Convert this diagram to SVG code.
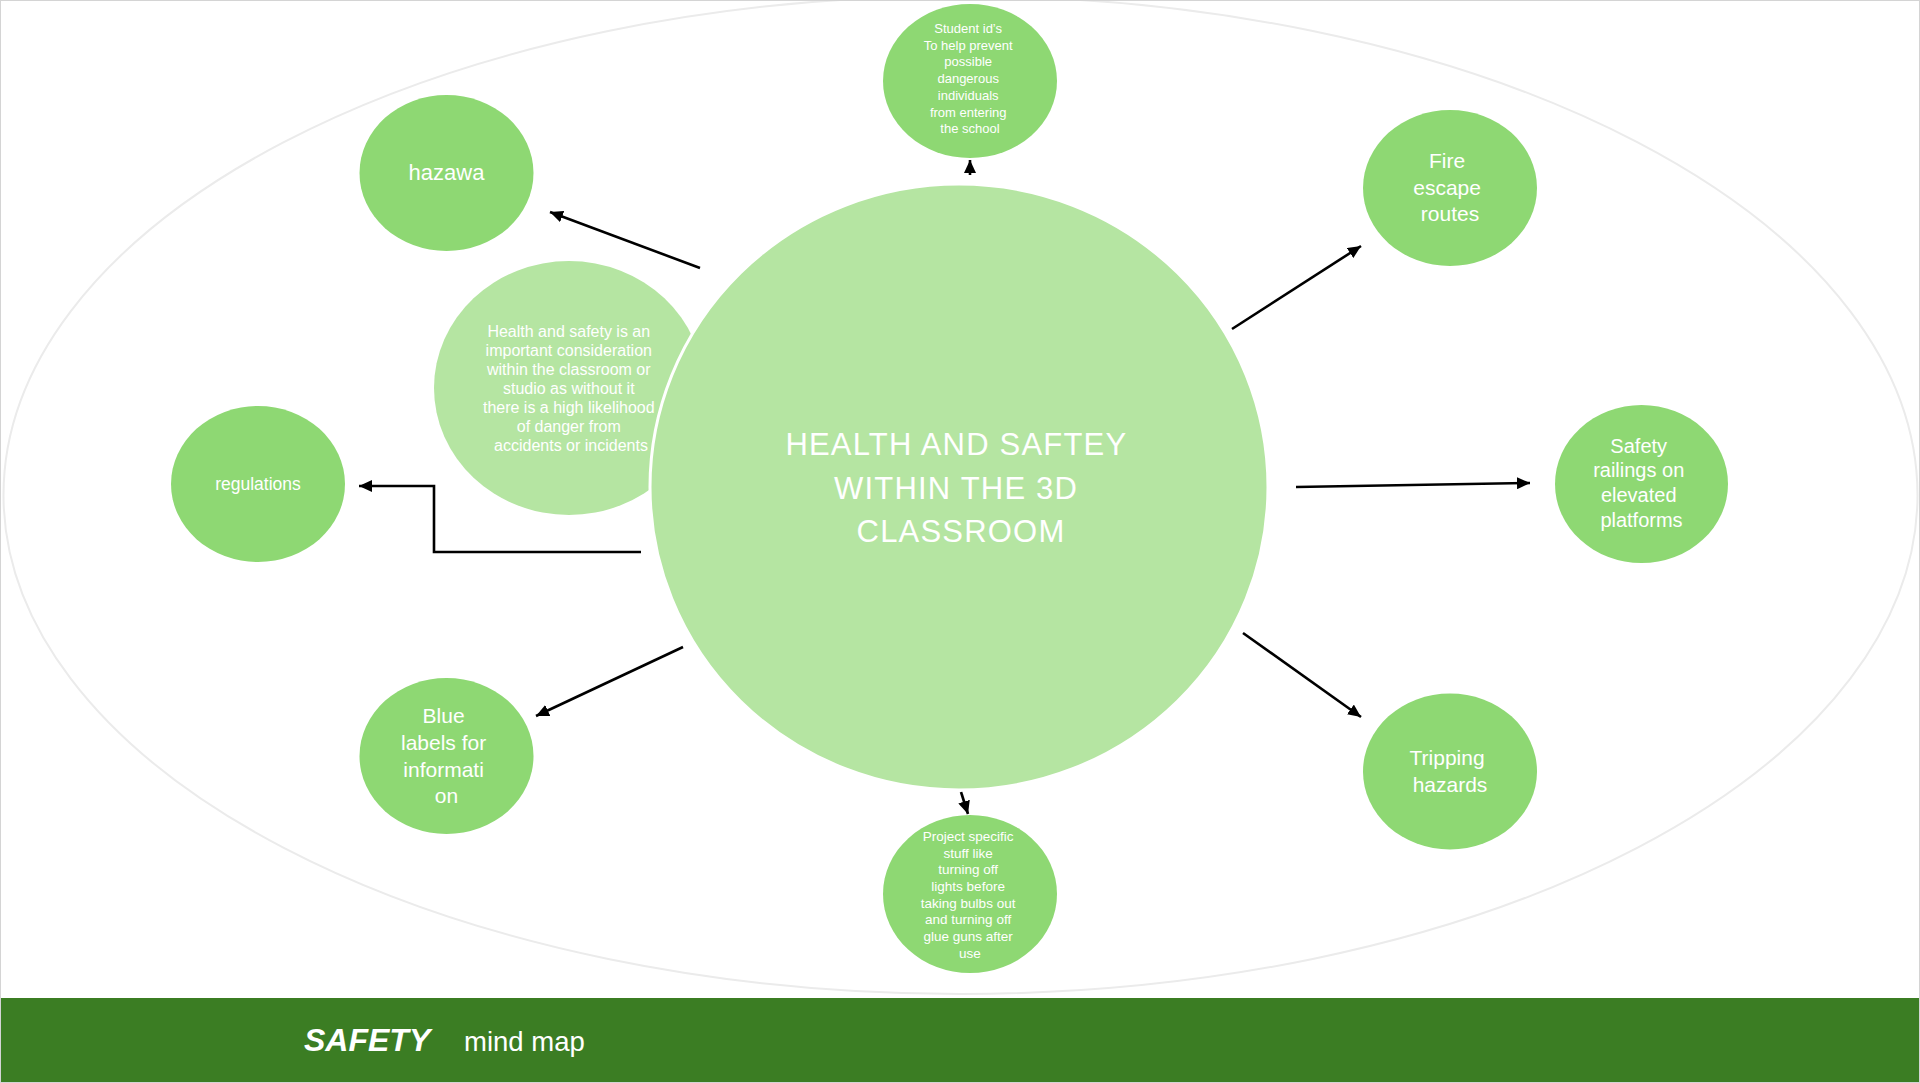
<svg xmlns="http://www.w3.org/2000/svg" width="1920" height="1083" viewBox="0 0 1920 1083">
  <style>
    .sat { fill: #8ed873; }
    .core { fill: #b5e5a2; }
    .t { fill: #ffffff; font-family: "Liberation Sans", Arial, sans-serif; text-anchor: middle; }
    .conn { stroke: #000000; stroke-width: 2.6; fill: none; marker-end: url(#arrow); }
  </style>
  <defs>
    <marker id="arrow" markerUnits="userSpaceOnUse" markerWidth="14" markerHeight="12" refX="13" refY="6" orient="auto">
      <path d="M0,0 L13,6 L0,12 z" fill="#000000"/>
    </marker>
  </defs>
  <rect x="0" y="0" width="1920" height="1083" fill="#ffffff"/>
  <ellipse cx="960.5" cy="495" rx="957" ry="499" fill="none" stroke="#ebebeb" stroke-width="2"/>

  <g id="connectors">
    <line class="conn" x1="700" y1="268" x2="550" y2="212"/>
    <line class="conn" x1="970" y1="175" x2="970" y2="160"/>
    <line class="conn" x1="1232" y1="329" x2="1361" y2="246"/>
    <line class="conn" x1="1296" y1="487" x2="1530" y2="483"/>
    <line class="conn" x1="1243" y1="633" x2="1361" y2="717"/>
    <line class="conn" x1="961" y1="792" x2="968" y2="814"/>
    <line class="conn" x1="683" y1="647" x2="536" y2="716"/>
    <polyline class="conn" points="641,552 434,552 434,486 359,486"/>
  </g>

  <g id="node-description">
    <ellipse class="core" cx="569" cy="388" rx="135" ry="127"/>
    <text class="t" font-size="16">
      <tspan x="571" y="337">Health and safety is an</tspan>
      <tspan x="571" y="356">important consideration</tspan>
      <tspan x="571" y="375">within the classroom or</tspan>
      <tspan x="571" y="394">studio as without it</tspan>
      <tspan x="571" y="413">there is a high likelihood</tspan>
      <tspan x="571" y="432">of danger from</tspan>
      <tspan x="571" y="451">accidents or incidents</tspan>
    </text>
  </g>

  <g id="node-center">
    <ellipse class="core" cx="959" cy="487" rx="309" ry="303" stroke="#ffffff" stroke-width="3"/>
    <text class="t" font-size="31" letter-spacing="1.2">
      <tspan x="961" y="455">HEALTH AND SAFTEY</tspan>
      <tspan x="961" y="499">WITHIN THE 3D</tspan>
      <tspan x="961" y="542">CLASSROOM</tspan>
    </text>
  </g>

  <g id="node-student-id">
    <ellipse class="sat" cx="970" cy="81" rx="87" ry="77"/>
    <text class="t" font-size="13">
      <tspan x="970" y="33">Student id’s</tspan>
      <tspan x="970" y="50">To help prevent</tspan>
      <tspan x="970" y="66">possible</tspan>
      <tspan x="970" y="83">dangerous</tspan>
      <tspan x="970" y="100">individuals</tspan>
      <tspan x="970" y="117">from entering</tspan>
      <tspan x="970" y="133">the school</tspan>
    </text>
  </g>

  <g id="node-hazawa">
    <ellipse class="sat" cx="446.5" cy="173" rx="87" ry="78"/>
    <text class="t" font-size="22" x="446.5" y="180">hazawa</text>
  </g>

  <g id="node-fire">
    <ellipse class="sat" cx="1450" cy="188" rx="87" ry="78"/>
    <text class="t" font-size="21">
      <tspan x="1450" y="168">Fire</tspan>
      <tspan x="1450" y="195">escape</tspan>
      <tspan x="1450" y="221">routes</tspan>
    </text>
  </g>

  <g id="node-regulations">
    <ellipse class="sat" cx="258" cy="484" rx="87" ry="78"/>
    <text class="t" font-size="17.5" x="258" y="490">regulations</text>
  </g>

  <g id="node-railings">
    <ellipse class="sat" cx="1641.5" cy="484" rx="86.5" ry="79"/>
    <text class="t" font-size="20">
      <tspan x="1641.5" y="453">Safety</tspan>
      <tspan x="1641.5" y="477">railings on</tspan>
      <tspan x="1641.5" y="502">elevated</tspan>
      <tspan x="1641.5" y="527">platforms</tspan>
    </text>
  </g>

  <g id="node-blue-labels">
    <ellipse class="sat" cx="446.5" cy="756" rx="87" ry="78"/>
    <text class="t" font-size="21">
      <tspan x="446.5" y="723">Blue</tspan>
      <tspan x="446.5" y="750">labels for</tspan>
      <tspan x="446.5" y="777">informati</tspan>
      <tspan x="446.5" y="803">on</tspan>
    </text>
  </g>

  <g id="node-tripping">
    <ellipse class="sat" cx="1450" cy="771.5" rx="87" ry="78"/>
    <text class="t" font-size="21">
      <tspan x="1450" y="765">Tripping</tspan>
      <tspan x="1450" y="792">hazards</tspan>
    </text>
  </g>

  <g id="node-project">
    <ellipse class="sat" cx="970" cy="894" rx="87" ry="79"/>
    <text class="t" font-size="13.5">
      <tspan x="970" y="841">Project specific</tspan>
      <tspan x="970" y="857.5">stuff like</tspan>
      <tspan x="970" y="874">turning off</tspan>
      <tspan x="970" y="891">lights before</tspan>
      <tspan x="970" y="907.5">taking bulbs out</tspan>
      <tspan x="970" y="924">and turning off</tspan>
      <tspan x="970" y="941">glue guns after</tspan>
      <tspan x="970" y="957.5">use</tspan>
    </text>
  </g>

  <g id="footer">
    <rect x="0" y="998" width="1920" height="85" fill="#3b7d23"/>
    <text x="304" y="1051" font-family="Liberation Sans, Arial, sans-serif" font-size="32" font-weight="bold" font-style="italic" fill="#ffffff">SAFETY</text>
    <text x="464" y="1051" font-family="Liberation Sans, Arial, sans-serif" font-size="27.5" fill="#ffffff">mind map</text>
  </g>
  <rect x="0.5" y="0.5" width="1919" height="1082" fill="none" stroke="#d4d4d4" stroke-width="1"/>
</svg>
